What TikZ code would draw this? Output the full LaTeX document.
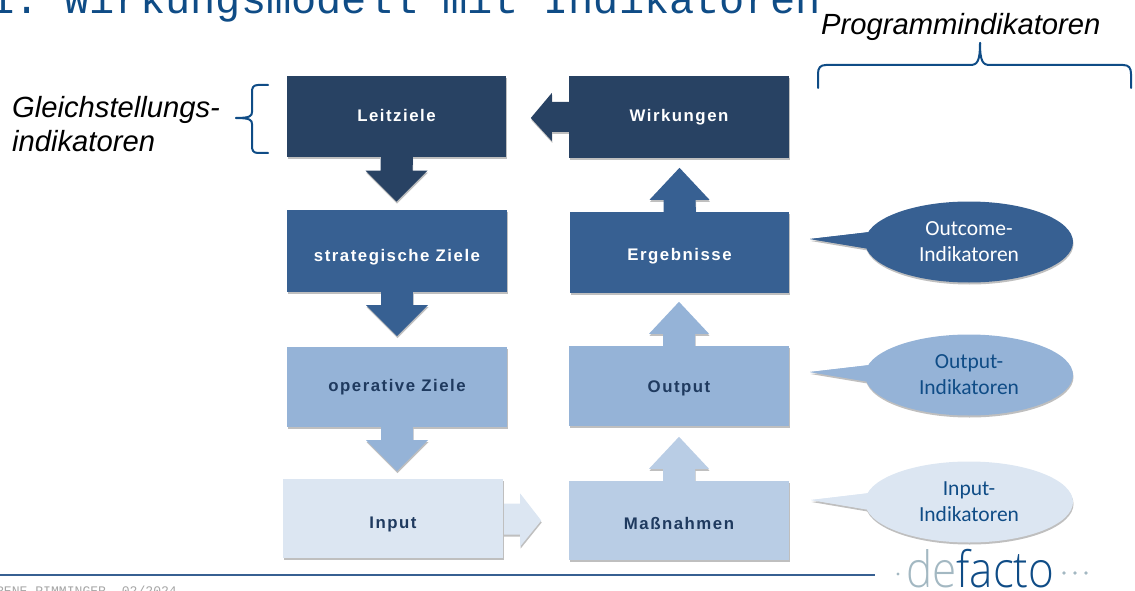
\documentclass[tikz,border=0pt]{standalone}
\usepackage{fontspec}
\setmainfont{Liberation Sans}
\newfontfamily\titlefont{Liberation Mono}
\newfontfamily\boxfont[LetterSpace=9]{Liberation Sans}
\newfontfamily\callfont{Carlito}
\newfontfamily\logofont{Open Sans Light}
\usetikzlibrary{shapes.geometric,shadows,backgrounds}
\definecolor{cDark}{HTML}{284263}
\definecolor{cMid}{HTML}{376092}
\definecolor{cLight}{HTML}{95B3D7}
\definecolor{cPale}{HTML}{B9CDE5}
\definecolor{cFaint}{HTML}{DCE6F2}
\definecolor{cInk}{HTML}{0F4C86}
\definecolor{cBoxInk}{HTML}{1F3A5F}
\definecolor{cGrey}{HTML}{A3B8C2}
\tikzset{
  softshadow/.style={general shadow={shadow xshift=0.5pt,shadow yshift=-2pt,fill=black!25}},
  block/.style={rectangle,inner sep=0pt,minimum width=#1,minimum height=81pt,softshadow,
    font=\boxfont\bfseries\fontsize{16.8}{18}\selectfont},
  bigarrow/.style={draw=none,softshadow},
  callout/.style={ellipse,inner sep=0pt,minimum width=208pt,minimum height=81pt,align=center,
    font=\callfont\fontsize{21.5}{26}\selectfont},
  pointer/.style={draw=none,softshadow},
  bracket/.style={draw=cInk,line width=2pt,line cap=round},
  handlabel/.style={inner sep=0pt,anchor=base west,align=left,font=\itshape\fontsize{29.2}{35}\selectfont,text=black}
}
\newcommand{\arrdown}[2]{\begin{scope}[on background layer]\fill[bigarrow,#2] (#1.south) ++(-16,-1) -- ++(0,14) -- ++(-15,0) -- ++(31,31) -- ++(31,-31) -- ++(-15,0) -- ++(0,-14) -- cycle;\end{scope}\fill[#2] (#1.south) ++(-16,-1) rectangle ++(32,8);}
\newcommand{\arrup}[2]{\begin{scope}[on background layer]\fill[bigarrow,#2] (#1.north) ++(-16,1) -- ++(0,-13) -- ++(-14,0) -- ++(30,-32) -- ++(30,32) -- ++(-14,0) -- ++(0,13) -- cycle;\end{scope}\fill[#2] (#1.north) ++(-16,3) rectangle ++(32,-8);}
\newcommand{\lowered}[2]{\raisebox{\dimexpr-#1-6pt\relax}[0pt][0pt]{#2}}
\begin{document}
\begin{tikzpicture}[x=1pt,y=-1pt]
\useasboundingbox[clip] (0,0) rectangle (1135,591);
% title and footer
\node[inner sep=0pt,anchor=base east,text=cInk,font=\titlefont\fontsize{42}{42}\selectfont] (title) at (821,14) {1.\ Wirkungsmodell mit Indikatoren};
\coordinate (lineL) at (0,575);
\coordinate (lineR) at (875,575);
\draw[line width=1.5pt,color=cMid] (lineL) -- (lineR);
\node[inner sep=0pt,anchor=base west,text=black!35,font=\titlefont\fontsize{13.1}{13}\selectfont] (foot) at (-12,595) {IRENE PIMMINGER, 02/2024};
% left column
\node[block=219pt,minimum height=81pt,fill=cDark,text=white] (leit) at (396.5,117) {\lowered{-1pt}{Leitziele}};
\node[block=220pt,minimum height=82pt,fill=cMid,text=white] (strat) at (397,251) {\lowered{4pt}{strategische Ziele}};
\node[block=220pt,minimum height=80pt,fill=cLight,text=cBoxInk] (oper) at (397,387) {\lowered{-2pt}{operative Ziele}};
\node[block=220pt,minimum height=79pt,fill=cFaint,text=cBoxInk] (inp) at (393,518.5) {\lowered{4pt}{Input}};
% right column
\node[block=220pt,minimum height=82pt,fill=cDark,text=white] (wirk) at (679,117) {\lowered{-1pt}{Wirkungen}};
\node[block=219pt,minimum height=81pt,fill=cMid,text=white] (erg) at (679.5,252.5) {\lowered{2pt}{Ergebnisse}};
\node[block=220pt,minimum height=80pt,fill=cLight,text=cBoxInk] (outp) at (679,386) {\lowered{0pt}{Output}};
\node[block=220pt,minimum height=79pt,fill=cPale,text=cBoxInk] (mass) at (679,520.5) {\lowered{3pt}{Maßnahmen}};
% block arrows
\arrdown{leit}{cDark}
\arrdown{strat}{cMid}
\arrdown{oper}{cLight}
\arrup{mass}{cPale}
\arrup{outp}{cLight}
\arrup{erg}{cMid}
\begin{scope}[on background layer]
\fill[bigarrow,cDark] (wirk.west) ++(1,-15) -- ++(-18,0) -- ++(0,-9) -- ++(-21,25) -- ++(21,23) -- ++(0,-9) -- ++(18,0) -- cycle;
\fill[bigarrow,cFaint] (inp.east) ++(-1,-15) -- ++(18,0) -- ++(0,-10) -- ++(21,27) -- ++(-21,26) -- ++(0,-12) -- ++(-18,0) -- cycle;
\end{scope}
% callouts
\coordinate (tipA) at (810,239);
\coordinate (tipB) at (810,372);
\coordinate (tipC) at (811,500);
\fill[pointer,cMid] (tipA) -- (870,232) -- (870,249) -- cycle;
\fill[pointer,cLight] (tipB) -- (870,365) -- (870,382) -- cycle;
\fill[pointer,cFaint] (tipC) -- (870,493) -- (870,510) -- cycle;
\node[callout,softshadow,fill=cMid,text=white] (cA) at (969,242) {Outcome-\\Indikatoren};
\node[callout,softshadow,fill=cLight,text=cInk] (cB) at (969,375) {Output-\\Indikatoren};
\node[callout,softshadow,fill=cFaint,text=cInk] (cC) at (969,502) {Input-\\Indikatoren};
\fill[cMid] (tipA) -- (870,232) -- (880,240) -- (870,249) -- cycle;
\fill[cLight] (tipB) -- (870,365) -- (880,373) -- (870,382) -- cycle;
\fill[cFaint] (tipC) -- (870,493) -- (880,501) -- (870,510) -- cycle;
% hand labels
\node[handlabel] (gleich) at (12,152) {Gleichstellungs-\\indikatoren};
\node[handlabel] (prog) at (821,35) {Programmindikatoren};
% braces
\coordinate (bl1) at (268,85);
\coordinate (bl2) at (268,153);
\coordinate (bltip) at (236,118);
\draw[bracket] (bl1) -- (258,85) .. controls (253,85) and (252,88) .. (252,92) -- (252,112) .. controls (252,116) and (250,118) .. (bltip);
\draw[bracket] (bl2) -- (258,153) .. controls (253,153) and (252,150) .. (252,146) -- (252,124) .. controls (252,120) and (250,118) .. (bltip);
\coordinate (br1) at (818,88);
\coordinate (br2) at (1131,88);
\coordinate (brtip) at (980,43);
\draw[bracket] (br1) -- (818,74) .. controls (818,68) and (820,65) .. (826,65) -- (970,65) .. controls (977,65) and (980,62) .. (brtip);
\draw[bracket] (br2) -- (1131,74) .. controls (1131,68) and (1129,65) .. (1123,65) -- (990,65) .. controls (983,65) and (980,62) .. (brtip);
% logo
\node[inner sep=0pt,anchor=base west,font=\logofont\fontsize{50}{50}\selectfont] (logo) at (906,587) {\scalebox{0.88}[1]{\textcolor{cGrey}{de}\textcolor{cInk}{facto}}};
\fill[cGrey] (898,574) circle (1.6pt);
\foreach \xx in {1064,1075,1086} \fill[cGrey] (\xx,573) circle (1.8pt);
\end{tikzpicture}
\end{document}
